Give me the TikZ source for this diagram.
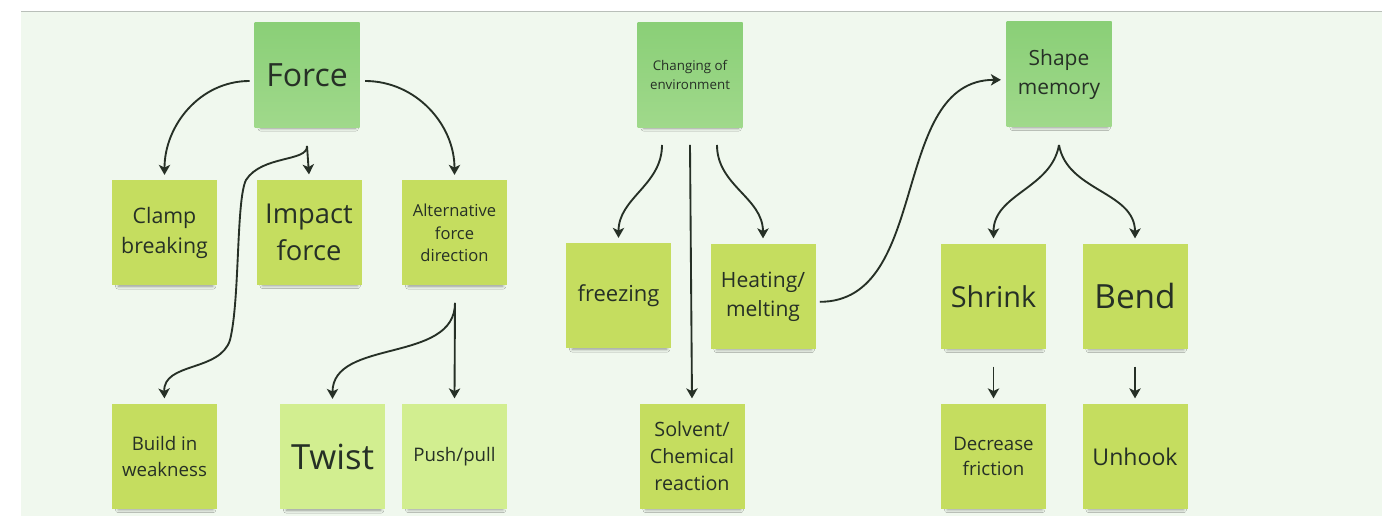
\documentclass[tikz,border=0pt]{standalone}
\usepackage{fontspec}
\setmainfont{Open Sans}
\usetikzlibrary{arrows.meta}
\usetikzlibrary{shadows.blur}

\definecolor{paper}{HTML}{F0F8EE}
\definecolor{rulegray}{HTML}{B9BFB9}
\definecolor{ink}{HTML}{263026}
\definecolor{topA}{HTML}{8ACF77}
\definecolor{topB}{HTML}{A0D98B}
\definecolor{midgreen}{HTML}{C5DD5F}
\definecolor{palegreen}{HTML}{D2EE90}

\tikzset{
	note/.style={rectangle, minimum width=78.75pt, minimum height=78.75pt,
		inner sep=0pt, align=center, text=ink,
		blur shadow={shadow xshift=1pt, shadow yshift=-5pt, shadow scale=0.9,
			shadow blur radius=2.5pt, shadow opacity=40}},
	topnote/.style={note, top color=topA, bottom color=topB},
	midnote/.style={note, fill=midgreen},
	palenote/.style={note, fill=palegreen},
	link/.style={draw=ink, line width=1.4pt,
		-{Stealth[length=7.5pt, width=8.5pt, inset=2pt]}},
}

\begin{document}
\begin{tikzpicture}[x=0.75pt, y=0.75pt]
	% page and board
	\fill[white] (0, 0) rectangle (1382, 516);
	\useasboundingbox (0, 0) rectangle (1382, 516);
	\fill[paper] (21, 0) rectangle (1382, 504.5);
	\draw[rulegray, line width=0.9pt] (21, 504.5) -- (1382, 504.5);

	% force branch
	\node[topnote, font=\fontsize{24}{32}\selectfont] (force) at (307, 441) {Force};
	\node[midnote, font=\fontsize{16}{22}\selectfont] (clamp) at (164.5, 283) {Clamp\\breaking};
	\node[midnote, font=\fontsize{20.5}{27.5}\selectfont] (impact) at (309, 283.5) {Impact\\force};
	\node[midnote, font=\fontsize{12.4}{16.9}\selectfont] (altdir) at (454.5, 283) {Alternative\\force\\direction};
	\node[midnote, font=\fontsize{14}{19}\selectfont] (weak) at (164.5, 59.5) {Build in\\weakness};
	\node[palenote, font=\fontsize{26}{35}\selectfont] (twist) at (332.5, 59) {Twist};
	\node[palenote, font=\fontsize{14}{19}\selectfont] (push) at (454.5, 59.5) {Push/pull};

	% environment branch
	\node[topnote, font=\fontsize{10}{13.6}\selectfont] (envchg) at (690, 441) {Changing of\\environment};
	\node[midnote, font=\fontsize{16.5}{22.4}\selectfont] (freeze) at (618.5, 220) {freezing};
	\node[midnote, font=\fontsize{15.8}{21.8}\selectfont] (heat) at (763, 219.5) {Heating/\\melting};
	\node[midnote, font=\fontsize{14.8}{20.3}\selectfont] (solvent) at (692, 59.5) {Solvent/\\Chemical\\reaction};

	% shape memory branch
	\node[topnote, font=\fontsize{15.7}{21.4}\selectfont] (shapemem) at (1059, 441.5) {Shape\\memory};
	\node[midnote, font=\fontsize{21.6}{29.4}\selectfont] (shrink) at (993.5, 219.5) {Shrink};
	\node[midnote, font=\fontsize{25}{34}\selectfont] (bend) at (1135, 219.5) {Bend};
	\node[midnote, font=\fontsize{14}{19}\selectfont] (decfric) at (993.5, 59.5) {Decrease\\friction};
	\node[midnote, font=\fontsize{17.3}{23.5}\selectfont] (unhook) at (1135, 59.5) {Unhook};

	% split points
	\coordinate (fsplit) at (307, 370);
	\coordinate (asplit) at (455, 213);
	\coordinate (envL) at (662, 371);
	\coordinate (envM) at (690, 371);
	\coordinate (envR) at (717, 371);
	\coordinate (memsplit) at (1059, 371);

	% connectors
	\draw[link] ([xshift=-3.5pt, yshift=-4.5pt]force.west) to[out=180, in=90] ([yshift=4pt]clamp.north);
	\draw[link] ([xshift=4pt, yshift=-4.5pt]force.east) to[out=0, in=90] ([yshift=4pt]altdir.north);
	\draw[link] (fsplit) -- ([yshift=4pt]impact.north);
	\draw[link] (fsplit) .. controls (308, 354) and (262, 361) .. (246, 336)
		.. controls (236, 316) and (240, 216) .. (230, 176)
		.. controls (220, 144) and (163, 154) .. ([yshift=4pt]weak.north);
	\draw[link] (asplit) -- ([yshift=4pt]push.north);
	\draw[link] (asplit) to[out=-90, in=90] ([yshift=4pt]twist.north);

	\draw[link] (envL) to[out=-90, in=90] ([yshift=4pt]freeze.north);
	\draw[link] (envM) -- ([yshift=4pt]solvent.north);
	\draw[link] (envR) to[out=-90, in=90] ([yshift=4pt]heat.north);
	\draw[link] ([xshift=3pt, yshift=-4pt]heat.east) to[out=0, in=180] ([xshift=-4pt, yshift=-4pt]shapemem.west);

	\draw[link] (memsplit) to[out=-100, in=90] ([yshift=4pt]shrink.north);
	\draw[link] (memsplit) to[out=-80, in=90] ([yshift=4pt]bend.north);
	\draw[link] ([yshift=-13pt]shrink.south) -- ([yshift=4pt]decfric.north);
	\draw[link] ([yshift=-13pt]bend.south) -- ([yshift=4pt]unhook.north);
\end{tikzpicture}
\end{document}
